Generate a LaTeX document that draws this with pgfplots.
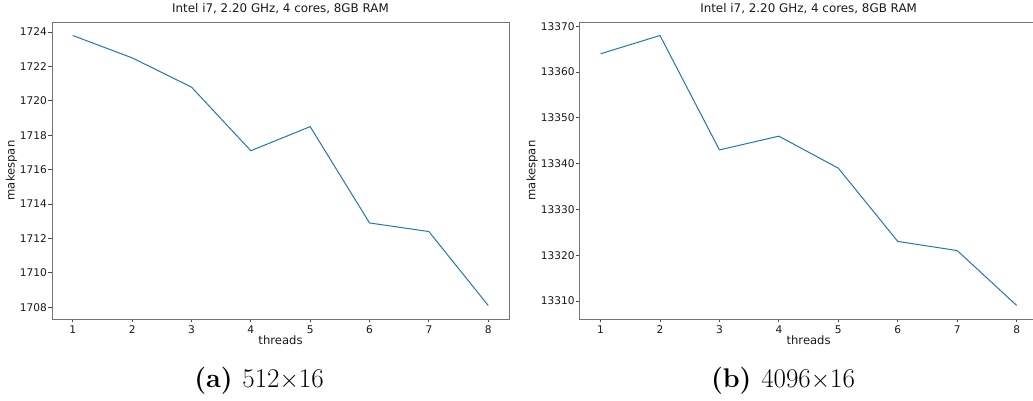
\documentclass[border=0pt]{standalone}
\usepackage{pgfplots}
\pgfplotsset{compat=1.18}
\usepackage{fontspec}
\newfontfamily\dejavu{DejaVu Sans}
\definecolor{mplblue}{HTML}{1F77B4}

\pgfplotsset{
  runplot/.style={
    scale only axis,
    anchor=south west,
    height=297pt,
    xmin=0.65, xmax=8.35,
    xtick={1,...,8},
    scaled y ticks=false,
    tick align=outside,
    major tick length=3.5pt,
    xtick pos=bottom, ytick pos=left,
    axis line style={black!55, line width=0.8pt},
    every tick/.style={black!70, line width=0.8pt},
    /pgf/number format/.cd, fixed, precision=0, 1000 sep={}, assume math mode=true, /pgfplots/.cd,
    tick label style={font=\dejavu\fontsize{10.6}{12}\selectfont, text=black!90},
    yticklabel style={anchor=east, inner sep=0pt, xshift=-1.5pt},
    xticklabel style={anchor=north, inner sep=0pt, yshift=-3pt},
    title style={font=\dejavu\fontsize{11.9}{14}\selectfont, text=black!90,
      at={(axis description cs:0.5,1)}, anchor=base, yshift=3.3pt},
    every axis x label/.style={at={(axis description cs:0.5,0)}, anchor=base,
      yshift=-26pt, font=\dejavu\fontsize{11.6}{14}\selectfont, text=black!90},
    title={Intel i7, 2.20 GHz, 4 cores, 8GB RAM},
    xlabel={threads},
    ylabel={makespan},
  },
}

\begin{document}
\begin{tikzpicture}
\useasboundingbox (0,0) rectangle (1033pt,401pt);
\clip (0,0) rectangle (1033pt,401pt);

% (a) 512x16
\begin{axis}[runplot,
  at={(52pt,82pt)}, width=457pt,
  ymin=1707.315, ymax=1724.585,
  ytick={1708,1710,1712,1714,1716,1718,1720,1722,1724},
  every axis y label/.style={at={(axis description cs:0,0.5)}, xshift=-37.5pt,
    rotate=90, anchor=base, font=\dejavu\fontsize{11.6}{14}\selectfont, text=black!90},
]
\addplot[mplblue, line width=1pt] coordinates {
  (1,1723.8) (2,1722.5) (3,1720.8) (4,1717.1)
  (5,1718.5) (6,1712.9) (7,1712.4) (8,1708.1)
};
\end{axis}

% (b) 4096x16
\begin{axis}[runplot,
  at={(579.7pt,82pt)}, width=457.8pt,
  ymin=13306.05, ymax=13370.95,
  ytick={13310,13320,13330,13340,13350,13360,13370},
  every axis y label/.style={at={(axis description cs:0,0.5)}, xshift=-44.4pt,
    rotate=90, anchor=base, font=\dejavu\fontsize{11.6}{14}\selectfont, text=black!90},
]
\addplot[mplblue, line width=1pt] coordinates {
  (1,13364) (2,13368) (3,13343) (4,13346)
  (5,13339) (6,13323) (7,13321) (8,13309)
};
\end{axis}

% sub-figure captions
\node[anchor=base, font=\fontsize{27}{32}\selectfont] at (259pt,13pt)
  {\textbf{(a)}\hspace{0.36em}512$\times$16};
\node[anchor=base, font=\fontsize{27}{32}\selectfont] at (783pt,13pt)
  {\textbf{(b)}\hspace{0.36em}4096$\times$16};
\end{tikzpicture}
\end{document}
